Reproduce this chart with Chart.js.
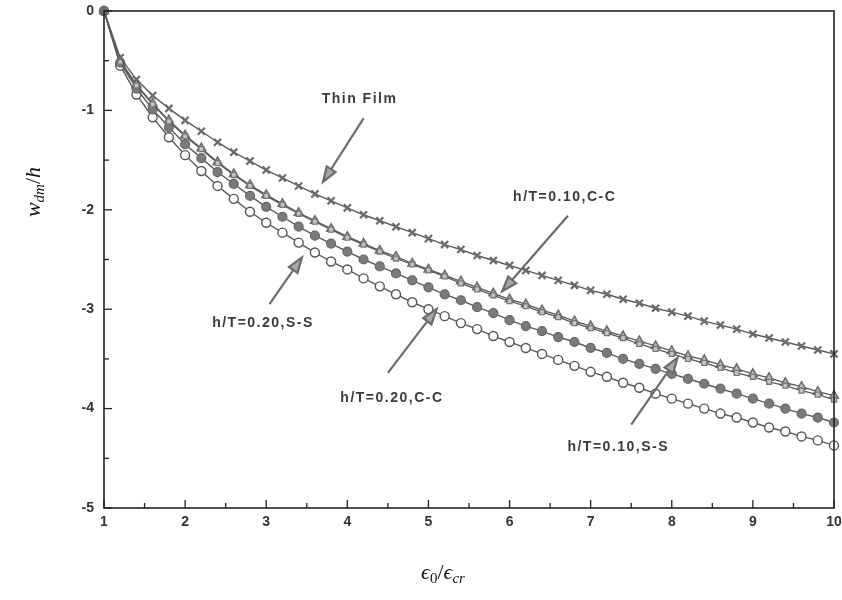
<!DOCTYPE html>
<html>
<head>
<meta charset="utf-8">
<script src="https://cdn.jsdelivr.net/npm/chart.js@4.4.1/dist/chart.umd.min.js"></script>
<style>
  body { margin: 0; background: #fff; }
</style>
</head>
<body>
<canvas id="deflChart" width="842" height="600"></canvas>
<script>
// eps0 / eps_cr sample points
const strainRatio = [1.0, 1.2, 1.4, 1.6, 1.8, 2.0, 2.2, 2.4, 2.6, 2.8, 3.0, 3.2, 3.4, 3.6, 3.8,
  4.0, 4.2, 4.4, 4.6, 4.8, 5.0, 5.2, 5.4, 5.6, 5.8, 6.0, 6.2, 6.4, 6.6, 6.8, 7.0,
  7.2, 7.4, 7.6, 7.8, 8.0, 8.2, 8.4, 8.6, 8.8, 9.0, 9.2, 9.4, 9.6, 9.8, 10.0];

// w_dm / h
const thinFilm = [0, -0.47, -0.69, -0.85, -0.98, -1.10, -1.21, -1.32, -1.42, -1.51, -1.60, -1.68, -1.76, -1.84, -1.91,
  -1.98, -2.05, -2.11, -2.17, -2.23, -2.29, -2.35, -2.40, -2.46, -2.51, -2.56, -2.61, -2.66, -2.71, -2.76, -2.81,
  -2.85, -2.90, -2.94, -2.99, -3.03, -3.07, -3.12, -3.16, -3.20, -3.25, -3.29, -3.33, -3.37, -3.41, -3.45];
const ht010CC = [0, -0.50, -0.74, -0.93, -1.10, -1.25, -1.38, -1.52, -1.64, -1.75, -1.85, -1.94, -2.03, -2.11, -2.19,
  -2.27, -2.34, -2.41, -2.47, -2.54, -2.60, -2.66, -2.72, -2.78, -2.84, -2.90, -2.95, -3.01, -3.06, -3.12, -3.17,
  -3.22, -3.27, -3.32, -3.37, -3.42, -3.47, -3.51, -3.56, -3.60, -3.65, -3.69, -3.74, -3.78, -3.83, -3.87];
const ht010SS = [0, -0.51, -0.75, -0.94, -1.11, -1.26, -1.39, -1.53, -1.65, -1.76, -1.86, -1.95, -2.04, -2.12, -2.20,
  -2.28, -2.35, -2.42, -2.49, -2.55, -2.61, -2.67, -2.74, -2.80, -2.86, -2.92, -2.97, -3.03, -3.08, -3.14, -3.19,
  -3.24, -3.29, -3.35, -3.40, -3.45, -3.50, -3.54, -3.59, -3.64, -3.68, -3.73, -3.77, -3.82, -3.86, -3.91];
const ht020CC = [0, -0.52, -0.78, -0.99, -1.17, -1.34, -1.48, -1.62, -1.74, -1.86, -1.97, -2.07, -2.17, -2.26, -2.34,
  -2.42, -2.50, -2.57, -2.64, -2.71, -2.78, -2.85, -2.91, -2.98, -3.04, -3.11, -3.17, -3.22, -3.28, -3.33, -3.39,
  -3.44, -3.50, -3.55, -3.60, -3.65, -3.70, -3.75, -3.80, -3.85, -3.90, -3.95, -4.00, -4.05, -4.09, -4.14];
const ht020SS = [0, -0.55, -0.84, -1.07, -1.27, -1.45, -1.61, -1.76, -1.89, -2.02, -2.13, -2.23, -2.33, -2.43, -2.52,
  -2.60, -2.69, -2.77, -2.85, -2.93, -3.00, -3.07, -3.14, -3.20, -3.27, -3.33, -3.39, -3.45, -3.51, -3.57, -3.63,
  -3.68, -3.74, -3.79, -3.85, -3.90, -3.95, -4.00, -4.05, -4.09, -4.14, -4.19, -4.23, -4.28, -4.32, -4.37];

const xTickMin = 1, xTickMax = 10;
const yTickMin = -5, yTickMax = 0;

// callouts (text anchor + arrow, in data units)
const callouts = [
  { text: "Thin Film",    tx: 4.15, ty: -0.89, from: [4.20, -1.08], to: [3.70, -1.72] },
  { text: "h/T=0.10,C-C", tx: 6.68, ty: -1.87, from: [6.72, -2.06], to: [5.91, -2.82] },
  { text: "h/T=0.20,S-S", tx: 2.96, ty: -3.14, from: [3.04, -2.95], to: [3.44, -2.48] },
  { text: "h/T=0.20,C-C", tx: 4.55, ty: -3.89, from: [4.50, -3.64], to: [5.10, -3.00] },
  { text: "h/T=0.10,S-S", tx: 7.34, ty: -4.39, from: [7.50, -4.16], to: [8.07, -3.49] }
];

function pts(ys) {
  return strainRatio.map((x, i) => ({ x: x, y: ys[i] }));
}

function drawRich(ctx, parts, x, y) {
  // parts: [text, font, dy]
  let total = 0;
  parts.forEach(p => { ctx.font = p[1]; total += ctx.measureText(p[0]).width; });
  let cx = x - total / 2;
  ctx.textAlign = "left";
  ctx.textBaseline = "middle";
  parts.forEach(p => {
    ctx.font = p[1];
    ctx.fillText(p[0], cx, y + p[2]);
    cx += ctx.measureText(p[0]).width;
  });
}

const decor = {
  id: "decor",
  afterDatasetsDraw(chart) {
    const ctx = chart.ctx;
    const a = chart.chartArea;
    const xs = chart.scales.x, ys = chart.scales.y;
    ctx.save();

    // frame
    ctx.strokeStyle = "#222";
    ctx.lineWidth = 1.6;
    ctx.strokeRect(a.left, a.top, a.right - a.left, a.bottom - a.top);

    // inward ticks, majors at integers
    ctx.lineWidth = 1.3;
    xs.ticks.forEach(t => {
      const px = xs.getPixelForValue(t.value);
      const len = Number.isInteger(t.value) ? 8 : 5;
      ctx.beginPath(); ctx.moveTo(px, a.bottom); ctx.lineTo(px, a.bottom - len); ctx.stroke();
    });
    ys.ticks.forEach(t => {
      const py = ys.getPixelForValue(t.value);
      const len = Number.isInteger(t.value) ? 8 : 5;
      ctx.beginPath(); ctx.moveTo(a.left, py); ctx.lineTo(a.left + len, py); ctx.stroke();
    });

    // callouts
    callouts.forEach(c => {
      const x0 = xs.getPixelForValue(c.from[0]), y0 = ys.getPixelForValue(c.from[1]);
      const x1 = xs.getPixelForValue(c.to[0]), y1 = ys.getPixelForValue(c.to[1]);
      ctx.strokeStyle = "#6b6b6b";
      ctx.lineWidth = 2.2;
      ctx.beginPath(); ctx.moveTo(x0, y0); ctx.lineTo(x1, y1); ctx.stroke();
      const ang = Math.atan2(y1 - y0, x1 - x0);
      const hl = 16, hw = 0.33;
      ctx.beginPath();
      ctx.moveTo(x1 - hl * Math.cos(ang - hw), y1 - hl * Math.sin(ang - hw));
      ctx.lineTo(x1, y1);
      ctx.lineTo(x1 - hl * Math.cos(ang + hw), y1 - hl * Math.sin(ang + hw));
      ctx.closePath();
      ctx.fillStyle = "#a8a8a8";
      ctx.fill();
      ctx.stroke();

      ctx.fillStyle = "#3a3a3a";
      ctx.font = "bold 14px 'Liberation Sans'";
      ctx.letterSpacing = "1.5px";
      ctx.textAlign = "center";
      ctx.textBaseline = "middle";
      ctx.fillText(c.text, xs.getPixelForValue(c.tx), ys.getPixelForValue(c.ty));
      ctx.letterSpacing = "0px";
    });

    // axis titles
    ctx.fillStyle = "#111";
    const it = "italic 22px 'Liberation Serif'";
    const itSub = "italic 15px 'Liberation Serif'";
    const rm = "22px 'Liberation Serif'";
    const rmSub = "15px 'Liberation Serif'";
    drawRich(ctx, [["\u03f5", it, 0], ["0", rmSub, 6], ["/", rm, 0], ["\u03f5", it, 0], ["cr", itSub, 6]],
      443, 573);
    ctx.save();
    ctx.translate(34, 192);
    ctx.rotate(-Math.PI / 2);
    drawRich(ctx, [["w", it, 0], ["dm", itSub, 6], ["/", rm, 0], ["h", it, 0]], 0, 0);
    ctx.restore();

    ctx.restore();
  }
};

const lineCol = "#5a5a5a";
new Chart(document.getElementById("deflChart"), {
  type: "line",
  data: {
    datasets: [
      { label: "Thin Film", data: pts(thinFilm), pointStyle: "crossRot", pointRadius: 5,
        pointBorderWidth: 2.2, pointBorderColor: "#6a6a6a", borderColor: lineCol, borderWidth: 1.4 },
      { label: "h/T=0.10,S-S", data: pts(ht010SS), pointStyle: "rect", pointRadius: 3.5,
        pointBorderWidth: 1.3, pointBorderColor: "#777", pointBackgroundColor: "#c4c4c4",
        borderColor: lineCol, borderWidth: 1.3 },
      { label: "h/T=0.10,C-C", data: pts(ht010CC), pointStyle: "triangle", pointRadius: 5,
        pointBorderWidth: 1.5, pointBorderColor: "#6a6a6a", pointBackgroundColor: "#b8b8b8",
        borderColor: lineCol, borderWidth: 1.3 },
      { label: "h/T=0.20,C-C", data: pts(ht020CC), pointStyle: "circle", pointRadius: 4.5,
        pointBorderWidth: 1.2, pointBorderColor: "#666", pointBackgroundColor: "#7a7a7a",
        borderColor: lineCol, borderWidth: 1.4 },
      { label: "h/T=0.20,S-S", data: pts(ht020SS), pointStyle: "circle", pointRadius: 4.5,
        pointBorderWidth: 1.4, pointBorderColor: "#555", pointBackgroundColor: "#fff",
        borderColor: lineCol, borderWidth: 1.4 }
    ]
  },
  options: {
    responsive: false,
    animation: false,
    clip: false,
    layout: { padding: { left: 30, right: 8, top: 11, bottom: 0 } },
    plugins: { legend: { display: false }, tooltip: { enabled: false } },
    scales: {
      x: {
        type: "linear", min: xTickMin, max: xTickMax,
        border: { display: false },
        grid: { display: false, drawTicks: false },
        ticks: {
          stepSize: 0.5, padding: 6, color: "#333",
          font: { family: "Liberation Sans", size: 14, weight: "bold" },
          maxRotation: 0, autoSkip: false,
          callback: v => Number.isInteger(v) ? String(v) : ""
        },
        afterFit: s => { s.height = 92; s.paddingLeft = 0; s.paddingRight = 0; }
      },
      y: {
        min: yTickMin, max: yTickMax,
        border: { display: false },
        grid: { display: false, drawTicks: false },
        ticks: {
          stepSize: 0.5, padding: 10, color: "#333",
          font: { family: "Liberation Sans", size: 14, weight: "bold" },
          autoSkip: false,
          callback: v => Number.isInteger(v) ? String(v) : ""
        },
        afterFit: s => { s.width = 74; s.paddingTop = 0; s.paddingBottom = 0; }
      }
    }
  },
  plugins: [decor]
});
</script>
</body>
</html>
